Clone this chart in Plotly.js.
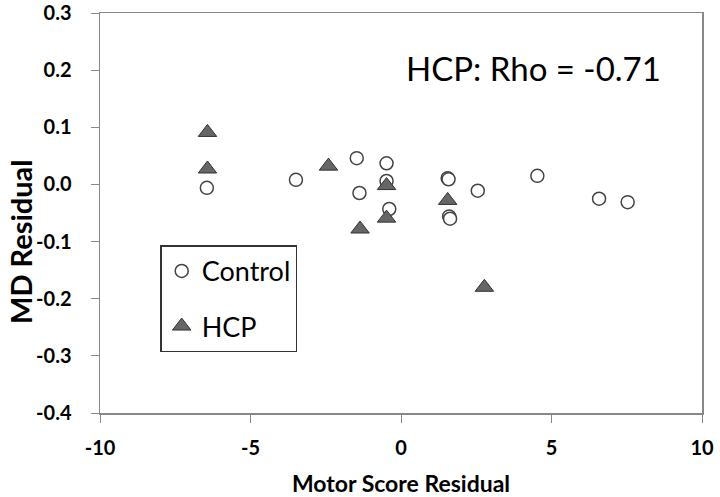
<!DOCTYPE html>
<html>
<head>
<meta charset="utf-8">
<script src="https://cdn.plot.ly/plotly-3.0.1.min.js"></script>
<style>html,body{margin:0;padding:0;background:#fff;}#chart{width:720px;height:497px;}</style>
</head>
<body>
<div id="chart"></div>
<script>
// Data
const controlX = [-6.45, -3.49, -1.47, -1.38, -0.48, -0.48, -0.39, 1.55, 1.58, 2.55, 4.53, 6.58, 7.53, 1.60, 1.63];
const controlY = [-0.006, 0.008, 0.046, -0.015, 0.037, 0.006, -0.043, 0.011, 0.009, -0.011, 0.015, -0.025, -0.031, -0.056, -0.060];
const hcpX = [-6.43, -6.43, -2.41, -0.48, -0.48, -1.36, 1.55, 2.77];
const hcpY = [0.091, 0.027, 0.032, -0.002, -0.059, -0.078, -0.028, -0.180];
const seriesNames = ["Control", "HCP"];
const xTicks = [-10, -5, 0, 5, 10];
const yTicks = [-0.4, -0.3, -0.2, -0.1, 0.0, 0.1, 0.2, 0.3];
const annotationText = "HCP: Rho = -0.71";
const xTitle = "Motor Score Residual";
const yTitle = "MD Residual";

const FONT = "Lato, 'Open Sans', 'DejaVu Sans', sans-serif";

const traces = [
  {
    x: controlX, y: controlY, name: seriesNames[0], type: "scatter", mode: "markers",
    legendgroup: "a",
    marker: {symbol: "circle", size: 13, color: "#ffffff", line: {color: "#444444", width: 1.5}}
  },
  {
    x: hcpX, y: hcpY, name: seriesNames[1], type: "scatter", mode: "markers",
    legendgroup: "b",
    marker: {symbol: "triangle-up", size: 16, color: "#666666", line: {color: "#333333", width: 1}}
  }
];

const layout = {
  width: 720, height: 497,
  margin: {l: 100, r: 18, t: 13, b: 84},
  paper_bgcolor: "#ffffff", plot_bgcolor: "#ffffff",
  font: {family: FONT, color: "#000000"},
  showlegend: true,
  legend: {
    x: 0.1, y: 0.419, xanchor: "left", yanchor: "top",
    bordercolor: "#333333", borderwidth: 1.5, bgcolor: "#ffffff",
    font: {size: 27, family: FONT, color: "#000000"},
    traceorder: "grouped", tracegroupgap: 17,
    itemsizing: "trace"
  },
  xaxis: {
    range: [-10, 10], tickvals: xTicks, ticktext: xTicks.map(String),
    showgrid: false, zeroline: false,
    showline: true, linecolor: "#888888", linewidth: 1.5, mirror: true,
    ticks: "outside", ticklen: 8, tickcolor: "#888888", tickwidth: 1,
    ticklabelstandoff: 8, ticklabeloverflow: "allow",
    tickfont: {size: 20, weight: "bold", family: FONT},
    title: {text: xTitle, font: {size: 23, weight: "bold", family: FONT}, standoff: 18}
  },
  yaxis: {
    range: [-0.4, 0.3], tickvals: yTicks, ticktext: yTicks.map(v => v.toFixed(1)),
    showgrid: false, zeroline: false,
    showline: true, linecolor: "#888888", linewidth: 1.5, mirror: true,
    ticks: "outside", ticklen: 8, tickcolor: "#888888", tickwidth: 1,
    ticklabelstandoff: 15, ticklabeloverflow: "allow",
    tickfont: {size: 20, weight: "bold", family: FONT}
  },
  annotations: [
    {
      x: 4.39, y: 0.203, xref: "x", yref: "y", text: annotationText, showarrow: false,
      font: {size: 33, family: FONT, color: "#000000"}
    },
    {
      x: 0, xref: "paper", xanchor: "center", y: 0.4275, yref: "paper", yanchor: "middle",
      text: yTitle, textangle: -90, showarrow: false,
      font: {size: 29, weight: "bold", family: FONT, color: "#000000"}
    }
  ]
};
// place the rotated y-title in pixels left of the plot (convert px to paper fraction)
const plotW = layout.width - layout.margin.l - layout.margin.r;
layout.annotations[1].x = (20 - layout.margin.l) / plotW;

Plotly.newPlot("chart", traces, layout, {displayModeBar: false, staticPlot: true});
</script>
</body>
</html>
